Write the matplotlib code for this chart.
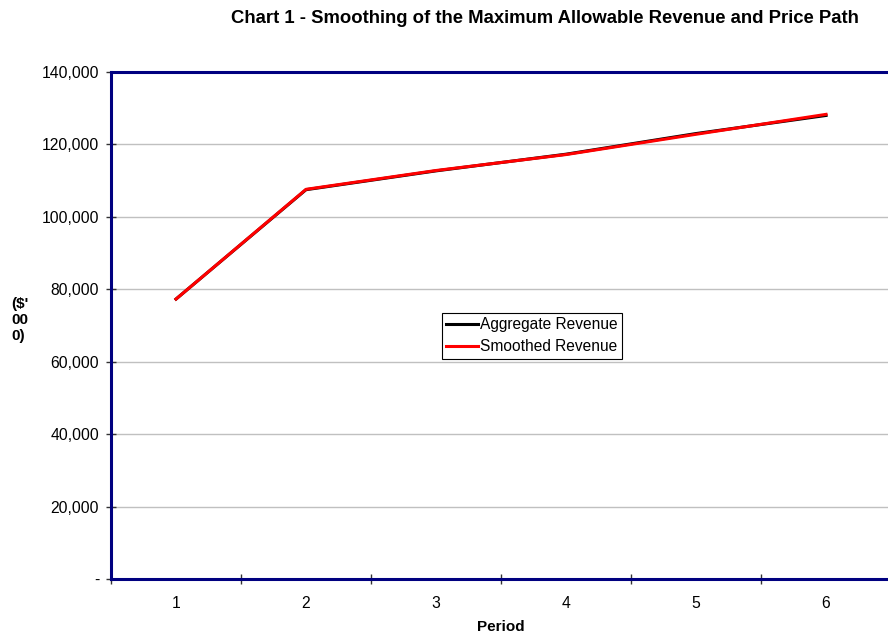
import matplotlib
matplotlib.use("Agg")
import matplotlib.pyplot as plt
from matplotlib.ticker import FuncFormatter, FixedLocator

plt.rcParams['font.family'] = ['Liberation Sans', 'DejaVu Sans']

periods = [1, 2, 3, 4, 5, 6]
aggregate_revenue = [77300, 107500, 112700, 117300, 123000, 128000]
smoothed_revenue = [77300, 107600, 112800, 117200, 122800, 128300]
y_ticks = [0, 20000, 40000, 60000, 80000, 100000, 120000, 140000]

fig = plt.figure(figsize=(8.88, 6.36), dpi=100)
ax = fig.add_axes([0.125, 0.0896, 0.8784, 0.7972])

x = list(range(len(periods)))
ax.plot(x, aggregate_revenue, color='black', lw=2.2, label='Aggregate Revenue', zorder=3)
ax.plot(x, smoothed_revenue, color='#ff0000', lw=2.2, label='Smoothed Revenue', zorder=4)

ax.set_xlim(-0.5, len(periods) - 0.5)
ax.set_ylim(0, 140000)

ax.yaxis.set_major_locator(FixedLocator(y_ticks))
ax.yaxis.set_major_formatter(FuncFormatter(lambda v, p: '-' if v == 0 else f'{int(v):,}'))
ax.grid(axis='y', color='#c0c0c0', lw=1, zorder=1)

# category labels at centers, tick marks at category boundaries
ax.set_xticks([i - 0.5 for i in range(len(periods) + 1)])
ax.set_xticklabels([])
ax.set_xticks(x, minor=True)
ax.set_xticklabels([str(p) for p in periods], minor=True)
ax.tick_params(axis='x', which='minor', length=0, pad=12, labelsize=11.3)
ax.tick_params(axis='x', which='major', direction='inout', length=7, width=1, color='#333333')
ax.tick_params(axis='y', direction='inout', length=7, width=1, color='#333333', labelsize=11.3, pad=5)

for side in ['left', 'bottom', 'top']:
    ax.spines[side].set_color('#000080')
    ax.spines[side].set_linewidth(2.2)
ax.spines['right'].set_visible(False)

fig.text(0.614, 0.971, 'Chart 1 - Smoothing of the Maximum Allowable Revenue and Price Path',
         ha='center', va='center', fontsize=13.3, fontweight='bold')
fig.text(0.564, 0.014, 'Period', ha='center', va='center', fontsize=11, fontweight='bold')
fig.text(0.013, 0.497, "($'\n00\n0)", ha='left', va='center', fontsize=11,
         fontweight='bold', linespacing=1.2)

leg = ax.legend(loc='upper left', bbox_to_anchor=(0.424, 0.525), frameon=True, fancybox=False,
                framealpha=1, edgecolor='black', fontsize=11.2, handlelength=2.0,
                handletextpad=0.15, borderpad=0.3, labelspacing=0.45, borderaxespad=0)
leg.get_frame().set_linewidth(0.8)

fig.savefig('out.png', dpi=100)
